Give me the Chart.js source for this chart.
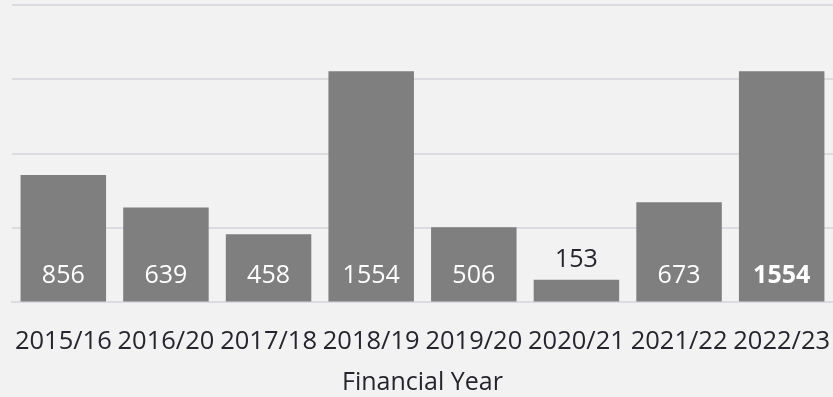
<!DOCTYPE html>
<html>
<head>
<meta charset="utf-8">
<script src="https://cdn.jsdelivr.net/npm/chart.js@4.4.1/dist/chart.umd.min.js"></script>
<style>
  html, body { margin: 0; padding: 0; background: #f2f2f2; }
  #wrap { width: 833px; height: 397px; }
</style>
</head>
<body>
<div id="wrap"><canvas id="fyChart"></canvas></div>
<script>
const years = ['2015/16', '2016/20', '2017/18', '2018/19', '2019/20', '2020/21', '2021/22', '2022/23'];
const counts = [856, 639, 458, 1554, 506, 153, 673, 1554];
const yTicks = [0, 500, 1000, 1500, 2000];
const boldIndex = 7;

const FONT = "'Open Sans', 'Noto Sans', sans-serif";
const TEXT = '#252530';

// value labels: white inside the bar foot, dark above when the bar is too short
const barLabels = {
  id: 'barLabels',
  afterDatasetsDraw(chart) {
    const { ctx } = chart;
    const meta = chart.getDatasetMeta(0);
    ctx.save();
    ctx.textAlign = 'center';
    ctx.textBaseline = 'middle';
    meta.data.forEach((bar, i) => {
      const h = bar.base - bar.y;
      const weight = i === boldIndex ? 'bold ' : '';
      ctx.font = weight + '25px ' + FONT;
      if (h > 40) {
        ctx.fillStyle = '#ffffff';
        ctx.fillText(String(counts[i]), bar.x, bar.base - 26);
      } else {
        ctx.fillStyle = TEXT;
        ctx.fillText(String(counts[i]), bar.x, bar.y - 20);
      }
    });
    ctx.restore();
  }
};

new Chart(document.getElementById('fyChart'), {
  type: 'bar',
  data: {
    labels: years,
    datasets: [{
      data: counts,
      backgroundColor: '#7f7f7f',
      borderWidth: 0,
      categoryPercentage: 0.833,
      barPercentage: 1.0
    }]
  },
  options: {
    responsive: true,
    maintainAspectRatio: false,
    animation: false,
    layout: { padding: { left: 12, right: 0, top: 5, bottom: 4 } },
    plugins: {
      legend: { display: false },
      tooltip: { enabled: false }
    },
    scales: {
      x: {
        // labels may overhang the plot edges; keep the plot full width
        afterFit: (axis) => { axis.paddingLeft = 0; axis.paddingRight = 0; },
        grid: { display: false },
        border: { display: true, color: '#dcdbe1', width: 2 },
        ticks: { color: TEXT, font: { family: FONT, size: 25.5 }, padding: 16, maxRotation: 0, autoSkip: false },
        title: { display: true, text: 'Financial Year', color: TEXT, font: { family: FONT, size: 25, lineHeight: 0.8 }, padding: { top: 0, bottom: 0 } }
      },
      y: {
        min: 0,
        max: yTicks[yTicks.length - 1],
        afterBuildTicks: (axis) => { axis.ticks = yTicks.map(v => ({ value: v })); },
        grid: { color: '#dcdbe1', lineWidth: 2, drawTicks: false },
        border: { display: false },
        ticks: { display: false }
      }
    }
  },
  plugins: [barLabels]
});
</script>
</body>
</html>
